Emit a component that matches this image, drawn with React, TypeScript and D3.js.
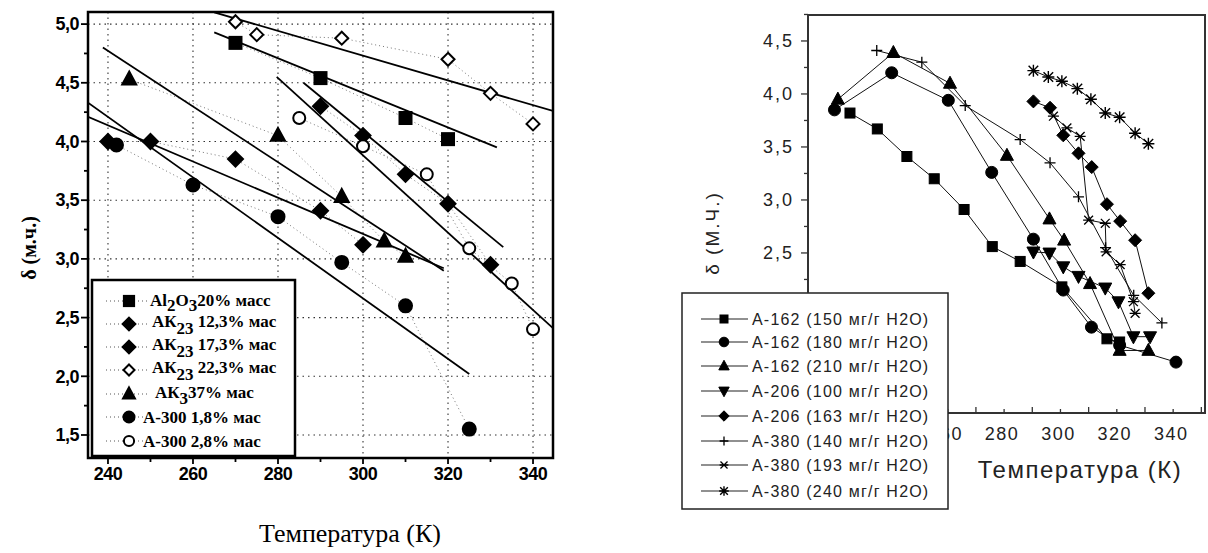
import React from 'react';
import * as d3 from 'd3';

// ---------------- LEFT CHART DATA ----------------
const leftYTicks = [1.5, 2.0, 2.5, 3.0, 3.5, 4.0, 4.5, 5.0];
const leftXTicks = [240, 260, 280, 300, 320, 340];

const al2o3T = [270, 290, 310, 320];
const al2o3V = [4.84, 4.54, 4.2, 4.02];
const ak12T = [240, 250, 270, 290, 300];
const ak12V = [4.0, 4.0, 3.85, 3.41, 3.12];
const ak17T = [290, 300, 310, 320, 330];
const ak17V = [4.3, 4.05, 3.72, 3.47, 2.95];
const ak22T = [270, 275, 295, 320, 330, 340];
const ak22V = [5.02, 4.91, 4.88, 4.7, 4.41, 4.15];
const ak3T = [245, 280, 295, 305, 310];
const ak3V = [4.53, 4.05, 3.53, 3.15, 3.02];
const a18T = [242, 260, 280, 295, 310, 325];
const a18V = [3.97, 3.63, 3.36, 2.97, 2.6, 1.55];
const a28T = [285, 300, 315, 325, 335, 340];
const a28V = [4.2, 3.96, 3.72, 3.09, 2.79, 2.4];

// fitted straight lines (start T, start value, end T, end value)
const fitT0 = [265, 265, 279.7, 286, 238.8, 235.3, 235.3];
const fitV0 = [5.1, 4.93, 4.55, 4.5, 4.8, 4.33, 4.21];
const fitT1 = [344.7, 331.5, 344.7, 333, 319, 325, 319];
const fitV1 = [4.26, 3.95, 2.41, 3.1, 2.9, 2.02, 2.92];

const leftLabels = ['20% масс', ' 12,3% мас', ' 17,3% мас', ' 22,3% мас', '37% мас', 'А-300  1,8% мас', 'А-300  2,8% мас'];

// ---------------- RIGHT CHART DATA ----------------
const rightYTicks = [2.5, 3.0, 3.5, 4.0, 4.5];
const rightXTicks = [260, 280, 300, 320, 340];

const r150T = [225.3, 235, 245.5, 255.2, 265.8, 275.8, 285.7, 300.5, 316.5, 321];
const r150V = [3.82, 3.67, 3.41, 3.2, 2.91, 2.56, 2.42, 2.18, 1.69, 1.66];
const r180T = [219.8, 240.1, 260.2, 275.6, 290.4, 301, 311, 321, 341];
const r180V = [3.85, 4.2, 3.94, 3.26, 2.63, 2.15, 1.8, 1.63, 1.47];
const r210T = [221, 240.7, 260.8, 281, 296.1, 301.3, 310.5, 321, 331.2];
const r210V = [3.95, 4.39, 4.1, 3.42, 2.82, 2.62, 2.21, 1.58, 1.58];
const r100T = [290.4, 296.1, 301, 306.4, 315.9, 320.6, 325.9, 331.8];
const r100V = [2.51, 2.5, 2.37, 2.28, 2.17, 2.04, 1.71, 1.71];
const r163T = [290.4, 296.3, 301, 306.4, 311.1, 316.5, 321.2, 326.5, 331.2];
const r163V = [3.93, 3.87, 3.61, 3.44, 3.31, 2.96, 2.8, 2.62, 2.12];
const r140T = [234.8, 250.8, 266.2, 285.7, 296.3, 306.4, 316, 326, 336];
const r140V = [4.41, 4.3, 3.89, 3.57, 3.35, 3.03, 2.55, 2.1, 1.84];
const r193T = [297.5, 302.3, 307, 310, 315.9, 316.2, 321.2, 325.9, 326.5];
const r193V = [3.79, 3.68, 3.6, 2.81, 2.78, 2.51, 2.39, 2.04, 1.93];
const r240T = [290.4, 295.7, 300.5, 306, 310.8, 315.9, 321, 326.5, 331.2];
const r240V = [4.22, 4.16, 4.12, 4.05, 3.95, 3.82, 3.78, 3.63, 3.53];

const rightLabels = [
  'А-162 (150 мг/г Н2О)',
  'А-162 (180 мг/г Н2О)',
  'А-162 (210 мг/г Н2О)',
  'А-206 (100 мг/г Н2О)',
  'А-206 (163 мг/г Н2О)',
  'А-380 (140 мг/г Н2О)',
  'А-380 (193 мг/г Н2О)',
  'А-380 (240 мг/г Н2О)',
];

// ---------------- helpers ----------------
type Shape = 'square' | 'circle' | 'triangle' | 'triangleDown' | 'diamond' | 'plus' | 'cross' | 'asterisk';

function Marker({ shape, x, y, s, filled = true, sw = 1.5 }: { shape: Shape; x: number; y: number; s: number; filled?: boolean; sw?: number }) {
  const fill = filled ? '#000' : '#fff';
  const h = s / 2;
  switch (shape) {
    case 'square':
      return <rect x={x - h} y={y - h} width={s} height={s} fill={fill} stroke="#000" strokeWidth={sw} />;
    case 'circle':
      return <circle cx={x} cy={y} r={h} fill={fill} stroke="#000" strokeWidth={sw} />;
    case 'triangle':
      return <path d={`M${x},${y - h * 1.1}L${x + h},${y + h * 0.75}L${x - h},${y + h * 0.75}Z`} fill={fill} stroke="#000" strokeWidth={sw} />;
    case 'triangleDown':
      return <path d={`M${x},${y + h * 1.1}L${x + h},${y - h * 0.75}L${x - h},${y - h * 0.75}Z`} fill={fill} stroke="#000" strokeWidth={sw} />;
    case 'diamond':
      return <path d={`M${x},${y - h}L${x + h},${y}L${x},${y + h}L${x - h},${y}Z`} fill={fill} stroke="#000" strokeWidth={sw} />;
    case 'plus':
      return <path d={`M${x - h},${y}H${x + h}M${x},${y - h}V${y + h}`} stroke="#000" strokeWidth={1.3} fill="none" />;
    case 'cross':
      return <path d={`M${x - h * 0.8},${y - h * 0.8}L${x + h * 0.8},${y + h * 0.8}M${x - h * 0.8},${y + h * 0.8}L${x + h * 0.8},${y - h * 0.8}M${x - h},${y}H${x + h}`} stroke="#000" strokeWidth={1.3} fill="none" />;
    case 'asterisk':
      return <path d={`M${x - h * 0.8},${y - h * 0.8}L${x + h * 0.8},${y + h * 0.8}M${x - h * 0.8},${y + h * 0.8}L${x + h * 0.8},${y - h * 0.8}M${x},${y - h}V${y + h}M${x - h},${y}H${x + h}`} stroke="#000" strokeWidth={1.4} fill="none" />;
  }
  return null;
}

const fmt = (v: number) => v.toFixed(1).replace('.', ',');

export default function App() {
  // ----- left scales -----
  const L = { x0: 88, x1: 553, y0: 12, y1: 458 };
  const xL = d3.scaleLinear().domain([235.3, 344.7]).range([L.x0, L.x1]);
  const yL = d3.scaleLinear().domain([1.304, 5.103]).range([L.y1, L.y0]);

  const leftSeries: { t: number[]; v: number[]; shape: Shape; filled: boolean; s: number }[] = [
    { t: al2o3T, v: al2o3V, shape: 'square', filled: true, s: 12 },
    { t: ak12T, v: ak12V, shape: 'diamond', filled: true, s: 15 },
    { t: ak17T, v: ak17V, shape: 'diamond', filled: true, s: 15 },
    { t: ak22T, v: ak22V, shape: 'diamond', filled: false, s: 13 },
    { t: ak3T, v: ak3V, shape: 'triangle', filled: true, s: 14 },
    { t: a18T, v: a18V, shape: 'circle', filled: true, s: 13 },
    { t: a28T, v: a28V, shape: 'circle', filled: false, s: 12 },
  ];

  const lineL = d3.line<[number, number]>().x((d) => xL(d[0])).y((d) => yL(d[1]));

  const leftMinorY = d3.range(1.5, 5.01, 0.25);
  const leftMinorX = d3.range(240, 345, 10);

  // ----- right scales -----
  const R = { x0: 808, x1: 1205, y0: 15, y1: 413 };
  const xR = d3.scaleLinear().domain([210.4, 351.3]).range([R.x0, R.x1]);
  const yR = d3.scaleLinear().domain([0.99, 4.745]).range([R.y1, R.y0]);
  const lineR = d3.line<[number, number]>().x((d) => xR(d[0])).y((d) => yR(d[1]));

  const rightSeries: { t: number[]; v: number[]; shape: Shape; s: number }[] = [
    { t: r150T, v: r150V, shape: 'square', s: 10 },
    { t: r180T, v: r180V, shape: 'circle', s: 12 },
    { t: r210T, v: r210V, shape: 'triangle', s: 13 },
    { t: r100T, v: r100V, shape: 'triangleDown', s: 13 },
    { t: r163T, v: r163V, shape: 'diamond', s: 13 },
    { t: r140T, v: r140V, shape: 'plus', s: 11 },
    { t: r193T, v: r193V, shape: 'cross', s: 11 },
    { t: r240T, v: r240V, shape: 'asterisk', s: 12 },
  ];
  const rightMinorY = d3.range(1.0, 4.751, 0.25);
  const rightMinorX = d3.range(220, 351, 10);

  const serifBold = "'Liberation Serif', 'Times New Roman', serif";
  const sans = "'Liberation Sans', Arial, sans-serif";

  const legRowsL = [301, 324, 347, 370, 394, 417, 441];
  const legRowsR = [319, 342, 366, 391, 416, 441, 465, 491];

  return (
    <svg width={1208} height={553} style={{ position: 'absolute', left: 0, top: 0, background: '#fff' }}>
      <defs>
        <clipPath id="clipL">
          <rect x={L.x0} y={L.y0} width={L.x1 - L.x0} height={L.y1 - L.y0} />
        </clipPath>
        <clipPath id="clipLeg">
          <rect x={92} y={280} width={203} height={176} />
        </clipPath>
      </defs>

      {/* ================= LEFT CHART ================= */}
      <g stroke="#333" strokeWidth={1.1} strokeDasharray="1.5,4" fill="none">
        {leftYTicks.map((v) => (
          <line key={'gy' + v} x1={L.x0} x2={L.x1} y1={yL(v)} y2={yL(v)} />
        ))}
        {leftXTicks.map((t) => (
          <line key={'gx' + t} x1={xL(t)} x2={xL(t)} y1={L.y0} y2={L.y1} />
        ))}
      </g>
      <g clipPath="url(#clipL)">
        {leftSeries.map((s, i) => (
          <path
            key={'dl' + i}
            d={lineL(s.t.map((t, j) => [t, s.v[j]] as [number, number])) || ''}
            fill="none"
            stroke="#777"
            strokeWidth={1}
            strokeDasharray="1,3"
          />
        ))}
        {fitT0.map((t0, i) => (
          <line key={'fit' + i} x1={xL(t0)} y1={yL(fitV0[i])} x2={xL(fitT1[i])} y2={yL(fitV1[i])} stroke="#000" strokeWidth={1.8} />
        ))}
        {leftSeries.map((s, i) =>
          s.t.map((t, j) => <Marker key={`lm${i}-${j}`} shape={s.shape} x={xL(t)} y={yL(s.v[j])} s={s.s} filled={s.filled} sw={2} />)
        )}
      </g>
      <rect x={L.x0} y={L.y0} width={L.x1 - L.x0} height={L.y1 - L.y0} fill="none" stroke="#000" strokeWidth={2.5} />
      <g stroke="#000" strokeWidth={1.8}>
        {leftMinorY.map((v, i) => (
          <line key={'ty' + i} x1={L.x0 - (i % 2 === 0 ? 7 : 4)} x2={L.x0} y1={yL(v)} y2={yL(v)} />
        ))}
        {leftMinorX.map((t, i) => (
          <line key={'tx' + i} x1={xL(t)} x2={xL(t)} y1={L.y1} y2={L.y1 + (i % 2 === 0 ? 6 : 4)} />
        ))}
      </g>
      <g fontFamily={sans} fontWeight="bold" fontSize={18} fill="#000">
        {leftYTicks.map((v) => (
          <text key={'yl' + v} x={79} y={yL(v)} dy="0.35em" textAnchor="end" letterSpacing={-0.5}>
            {fmt(v)}
          </text>
        ))}
        {leftXTicks.map((t) => (
          <text key={'xl' + t} x={xL(t)} y={480} textAnchor="middle" letterSpacing={-0.5}>
            {t}
          </text>
        ))}
      </g>
      <text transform="translate(36,248) rotate(-90)" textAnchor="middle" fontFamily={serifBold} fontWeight="bold" fontSize={20}>
        δ (м.ч.)
      </text>
      <text x={350} y={542} textAnchor="middle" fontFamily={serifBold} fontSize={26}>
        Температура (К)
      </text>

      {/* left legend */}
      <rect x={92} y={280} width={203} height={176} fill="#fff" stroke="#000" strokeWidth={2.5} />
      <g clipPath="url(#clipLeg)">
        {leftSeries.map((s, i) => (
          <g key={'lg' + i}>
            <line x1={106} x2={150} y1={legRowsL[i]} y2={legRowsL[i]} stroke="#555" strokeWidth={1} strokeDasharray="1,3" />
            <Marker shape={s.shape} x={129} y={legRowsL[i]} s={s.s * 0.85} filled={s.filled} sw={2} />
          </g>
        ))}
        <g fontFamily={serifBold} fontWeight="bold" fontSize={17} fill="#000">
          <text x={150} y={legRowsL[0] + 5}>
            Al<tspan dy={5}>2</tspan>
            <tspan dy={-5}>O</tspan>
            <tspan dy={5}>3</tspan>
            <tspan dy={-5}>{leftLabels[0]}</tspan>
          </text>
          {[1, 2, 3].map((i) => (
            <text key={'lt' + i} x={152} y={legRowsL[i] + 3}>
              АК<tspan dy={7}>23</tspan>
              <tspan dy={-7}>{leftLabels[i]}</tspan>
            </text>
          ))}
          <text x={155} y={legRowsL[4] + 4}>
            АК<tspan dy={6}>3</tspan>
            <tspan dy={-6}>{leftLabels[4]}</tspan>
          </text>
          <text x={143} y={legRowsL[5] + 6}>{leftLabels[5]}</text>
          <text x={143} y={legRowsL[6] + 6}>{leftLabels[6]}</text>
        </g>
      </g>

      {/* ================= RIGHT CHART ================= */}
      {rightSeries.map((s, i) => (
        <path
          key={'rl' + i}
          d={lineR(s.t.map((t, j) => [t, s.v[j]] as [number, number])) || ''}
          fill="none"
          stroke="#111"
          strokeWidth={1}
        />
      ))}
      {rightSeries.map((s, i) =>
        s.t.map((t, j) => <Marker key={`rm${i}-${j}`} shape={s.shape} x={xR(t)} y={yR(s.v[j])} s={s.s} sw={1} />)
      )}
      <rect x={R.x0} y={R.y0} width={R.x1 - R.x0} height={R.y1 - R.y0} fill="none" stroke="#333" strokeWidth={2} />
      <g stroke="#333" strokeWidth={1.3}>
        {rightMinorY.map((v, i) => (
          <line key={'rty' + i} x1={R.x0 - (i % 2 === 0 ? 7 : 4)} x2={R.x0} y1={yR(v)} y2={yR(v)} />
        ))}
        {rightMinorX.map((t, i) => (
          <line key={'rtx' + i} x1={xR(t)} x2={xR(t)} y1={R.y1} y2={R.y1 - (i % 2 === 0 ? 4 : 6)} />
        ))}
      </g>
      <g fontFamily={sans} fontSize={18} fill="#222">
        {rightYTicks.map((v) => (
          <text key={'ryl' + v} x={794} y={yR(v)} dy="0.35em" textAnchor="end" letterSpacing={2}>
            {fmt(v)}
          </text>
        ))}
        {rightXTicks.map((t) => (
          <text key={'rxl' + t} x={xR(t) - 2} y={440} textAnchor="middle" letterSpacing={1.5}>
            {t}
          </text>
        ))}
      </g>
      <text x={1080} y={478} textAnchor="middle" fontFamily={sans} fontSize={24} letterSpacing={1.5} fill="#222">
        Температура (К)
      </text>
      <text transform="translate(719,233) rotate(-90)" textAnchor="middle" fontFamily={sans} fontSize={19} letterSpacing={2} fill="#222">
        δ (М.Ч.)
      </text>

      {/* right legend */}
      <rect x={682} y={293} width={266} height={216} fill="#fff" stroke="#222" strokeWidth={1.5} />
      <line x1={R.x0} x2={R.x0} y1={289} y2={293} stroke="#333" strokeWidth={1.5} />
      {rightSeries.map((s, i) => (
        <g key={'rlg' + i}>
          <line x1={701} x2={748} y1={legRowsR[i]} y2={legRowsR[i]} stroke="#222" strokeWidth={1.2} />
          <Marker shape={s.shape} x={724} y={legRowsR[i]} s={s.s * 0.8} sw={1} />
          <text x={752} y={legRowsR[i]} dy="0.36em" fontFamily={sans} fontSize={16} letterSpacing={1.2} fill="#222">
            {rightLabels[i]}
          </text>
        </g>
      ))}
    </svg>
  );
}
